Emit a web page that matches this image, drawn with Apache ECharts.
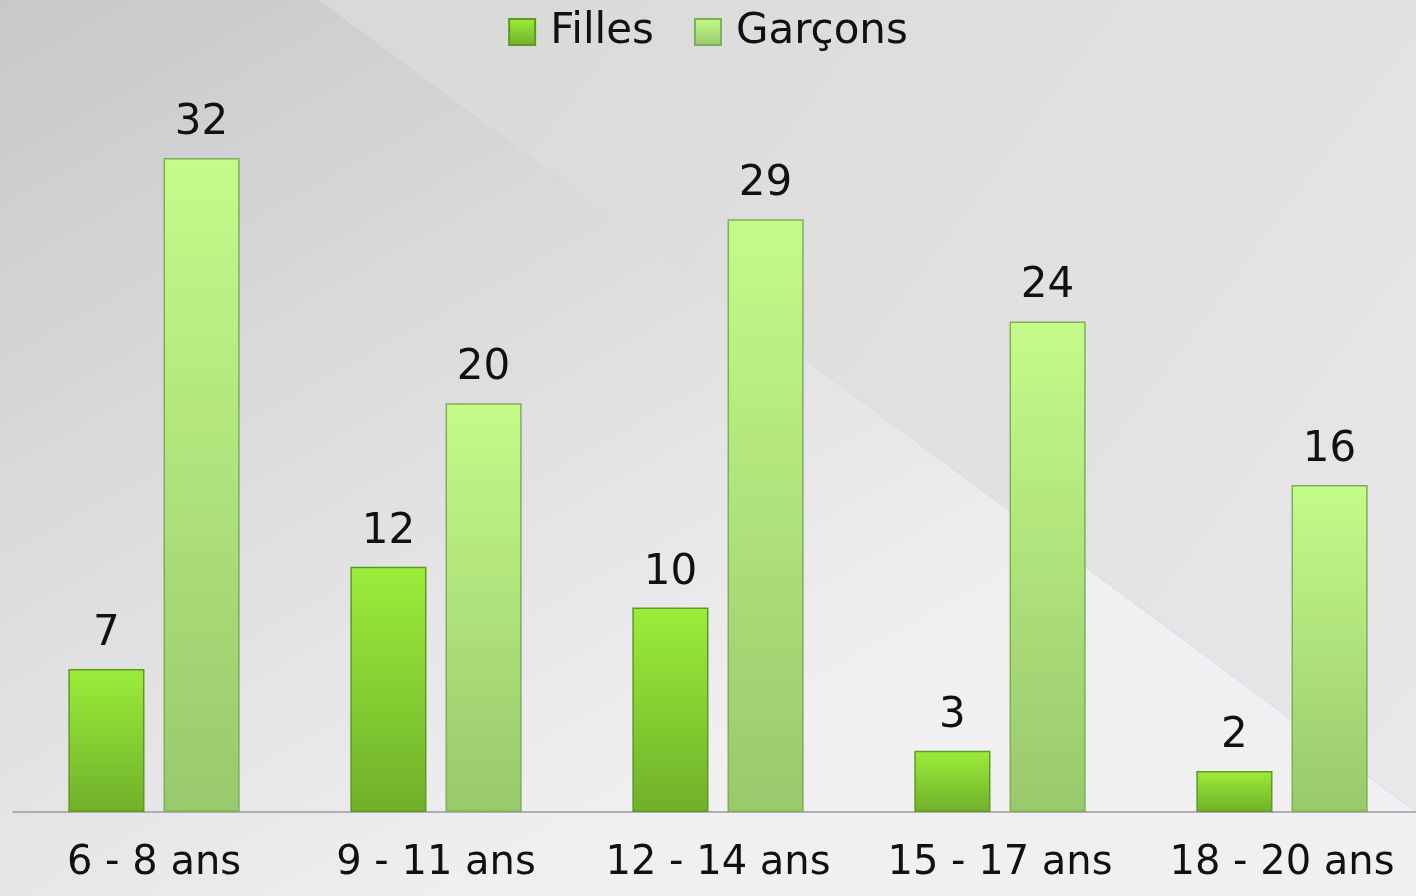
<!DOCTYPE html>
<html>
<head>
<meta charset="utf-8">
<script src="https://cdn.jsdelivr.net/npm/echarts@6/dist/echarts.min.js"></script>
<style>
  html, body { margin: 0; padding: 0; }
  #chart { width: 1416px; height: 896px; }
</style>
</head>
<body>
<div id="chart"></div>
<script>
const categories = ['6 - 8 ans', '9 - 11 ans', '12 - 14 ans', '15 - 17 ans', '18 - 20 ans']
const filles = [7, 12, 10, 3, 2]
const garcons = [32, 20, 29, 24, 16]
const seriesNames = ['Filles', 'Garçons']

const font = 'DejaVu Sans'

function barGradient(top, bottom) {
  return new echarts.graphic.LinearGradient(0, 0, 0, 1, [
    { offset: 0, color: top },
    { offset: 1, color: bottom }
  ])
}

const labelStyle = {
  show: true,
  position: 'top',
  distance: 14,
  fontFamily: font,
  fontSize: 42,
  color: '#111'
}

const chart = echarts.init(document.getElementById('chart'))

chart.setOption({
  animation: false,
  graphic: [
    {
      type: 'rect',
      z: -10,
      shape: { x: 0, y: 0, width: 1416, height: 896 },
      style: {
        fill: new echarts.graphic.LinearGradient(0, 0, 0.35, 1, [
          { offset: 0, color: '#c8c8ca' },
          { offset: 1, color: '#f0f0f2' }
        ])
      }
    },
    {
      type: 'polygon',
      z: -9,
      shape: { points: [[320, 0], [1416, 0], [1416, 812]] },
      style: {
        fill: new echarts.graphic.LinearGradient(0, 0, 1, 1, [
          { offset: 0, color: '#d8d8d8' },
          { offset: 1, color: '#e8e8ea' }
        ])
      }
    },
    {
      type: 'polyline',
      z: -8,
      shape: { points: [[320, 0], [1416, 812]] },
      style: { stroke: '#d2dee6', lineWidth: 1 }
    }
  ],
  legend: {
    top: 6,
    left: 'center',
    itemWidth: 26,
    itemHeight: 26,
    itemGap: 40,
    icon: 'rect',
    textStyle: {
      fontFamily: font,
      fontSize: 42,
      color: '#111',
      padding: [0, 0, 0, 10]
    },
    data: seriesNames
  },
  grid: {
    left: 13,
    width: 1410,
    top: 96.6,
    height: 715.4,
    outerBoundsMode: 'none'
  },
  xAxis: {
    type: 'category',
    data: categories,
    axisTick: { show: false },
    axisLine: { lineStyle: { color: '#9a9a9a', width: 1.5 } },
    axisLabel: {
      interval: 0,
      margin: 32,
      fontFamily: font,
      fontSize: 40,
      color: '#111'
    }
  },
  yAxis: {
    type: 'value',
    min: 0,
    max: 35,
    show: false,
    splitLine: { show: false }
  },
  series: [
    {
      name: seriesNames[0],
      type: 'bar',
      data: filles,
      barWidth: '27%',
      barGap: '25%',
      itemStyle: {
        color: barGradient('#9ced3a', '#70b02a'),
        borderColor: '#5e9a22',
        borderWidth: 1.5
      },
      label: labelStyle
    },
    {
      name: seriesNames[1],
      type: 'bar',
      data: garcons,
      barWidth: '27%',
      itemStyle: {
        color: barGradient('#c4fb8a', '#98c96c'),
        borderColor: '#7fae55',
        borderWidth: 1.5
      },
      label: labelStyle
    }
  ]
})
</script>
</body>
</html>
